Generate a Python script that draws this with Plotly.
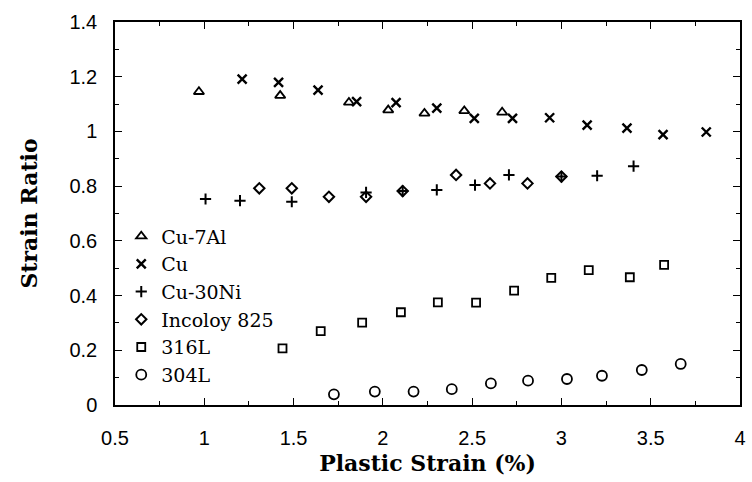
import plotly.graph_objects as go

# Cu-7Al (triangles)
cu7al_x = [0.97, 1.425, 1.81, 2.03, 2.233, 2.456, 2.668]
cu7al_y = [1.145, 1.131, 1.106, 1.078, 1.066, 1.075, 1.070]

# Cu (crosses)
cu_x = [1.212, 1.416, 1.637, 1.853, 2.074, 2.302, 2.512, 2.726, 2.934, 3.144, 3.367, 3.569, 3.811]
cu_y = [1.191, 1.179, 1.151, 1.109, 1.105, 1.085, 1.048, 1.048, 1.050, 1.023, 1.012, 0.988, 0.998]

# Cu-30Ni (plus)
cuni_x = [1.007, 1.20, 1.49, 1.906, 2.111, 2.302, 2.516, 2.706, 3.0, 3.20, 3.404]
cuni_y = [0.753, 0.747, 0.743, 0.777, 0.782, 0.786, 0.804, 0.841, 0.835, 0.838, 0.873]

# Incoloy 825 (diamonds)
inc_x = [1.308, 1.49, 1.698, 1.906, 2.111, 2.41, 2.60, 2.81, 3.0]
inc_y = [0.792, 0.792, 0.761, 0.761, 0.782, 0.841, 0.810, 0.810, 0.835]

# 316L (squares)
s316_x = [1.438, 1.652, 1.884, 2.101, 2.308, 2.522, 2.735, 2.943, 3.153, 3.383, 3.575]
s316_y = [0.207, 0.270, 0.301, 0.339, 0.375, 0.374, 0.418, 0.465, 0.493, 0.467, 0.512]

# 304L (circles)
s304_x = [1.726, 1.955, 2.172, 2.386, 2.605, 2.813, 3.031, 3.227, 3.450, 3.668]
s304_y = [0.039, 0.049, 0.049, 0.058, 0.079, 0.089, 0.095, 0.107, 0.128, 0.150]

x_ticks = [0.5, 1, 1.5, 2, 2.5, 3, 3.5, 4]
x_ticktext = ["0.5", "1", "1.5", "2", "2.5", "3", "3.5", "4"]
y_ticks = [0, 0.2, 0.4, 0.6, 0.8, 1.0, 1.2, 1.4]
y_ticktext = ["0", "0.2", "0.4", "0.6", "0.8", "1", "1.2", "1.4"]

series = [
    ("Cu-7Al", cu7al_x, cu7al_y, "triangle-up-open", 9, 1.8),
    ("Cu", cu_x, cu_y, "x-thin-open", 9, 2.4),
    ("Cu-30Ni", cuni_x, cuni_y, "cross-thin-open", 8, 2.0),
    ("Incoloy 825", inc_x, inc_y, "diamond-open", 8, 2.0),
    ("316L", s316_x, s316_y, "square-open", 8, 1.8),
    ("304L", s304_x, s304_y, "circle-open", 10, 1.8),
]

fig = go.Figure()
for name, xs, ys, sym, size, lw in series:
    fig.add_trace(go.Scatter(
        x=xs, y=ys, mode="markers", name=name,
        marker=dict(symbol=sym, size=size, color="black",
                    line=dict(color="black", width=lw)),
    ))

axis_common = dict(
    showline=True, linecolor="black", linewidth=1.5, mirror="allticks",
    ticks="inside", ticklen=7, tickwidth=1.2, tickcolor="black",
    showgrid=False, zeroline=False,
    tickfont=dict(family="Liberation Sans, Arial, sans-serif", size=20, color="black"),
)

title_font = dict(family="DejaVu Serif, serif", size=22, color="black")

fig.update_xaxes(
    range=[0.5, 4], tickvals=x_ticks, ticktext=x_ticktext,
    minor=dict(ticks="inside", dtick=0.25, ticklen=4, tickcolor="black", tickwidth=1),
    ticklabelstandoff=14,
    title=dict(text="<b>Plastic Strain (%)</b>", font=title_font, standoff=8),
    **axis_common,
)
fig.update_yaxes(
    range=[0, 1.4], tickvals=y_ticks, ticktext=y_ticktext,
    minor=dict(ticks="inside", dtick=0.1, ticklen=4, tickcolor="black", tickwidth=1),
    ticklabelstandoff=12,
    title=dict(text="<b>Strain Ratio</b>", font=title_font, standoff=26),
    **axis_common,
)

fig.update_layout(
    width=752, height=482,
    margin=dict(l=115, r=6, t=22, b=77),
    paper_bgcolor="white", plot_bgcolor="white",
    showlegend=True,
    legend=dict(
        x=0.01, y=0.49, xanchor="left", yanchor="top",
        bgcolor="rgba(0,0,0,0)", borderwidth=0,
        font=dict(family="DejaVu Serif, serif", size=19, color="black"),
        itemwidth=30, tracegroupgap=0,
    ),
)

fig.write_html("out.html")
